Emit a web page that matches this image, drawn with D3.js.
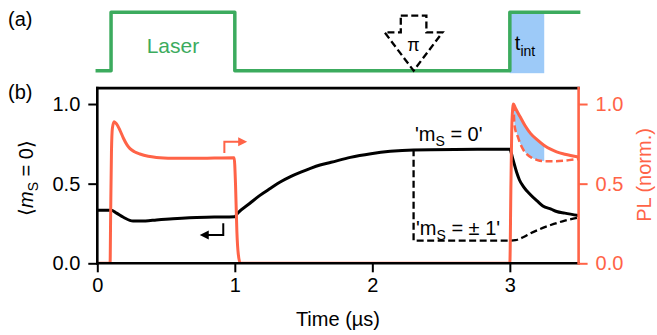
<!DOCTYPE html>
<html>
<head>
<meta charset="utf-8">
<script src="https://cdn.jsdelivr.net/npm/d3@7"></script>
<style>
  body { margin: 0; background: #fff; }
  svg { font-family: "Liberation Sans", Arial, sans-serif; }
</style>
</head>
<body>
<svg id="chart" width="657" height="335"></svg>
<script>
var xTicks = [0, 1, 2, 3];
var yTicks = [0, 0.5, 1.0];

// (a) laser sequence
var laserT  = [0, 0.1, 0.1, 1.0, 1.0, 3.0, 3.0, 3.5];
var laserOn = [0, 0,   1,   1,   0,   0,   1,   1];
var piTime = 2.3;
var intWindow = [3.0, 3.25];

// (b) population of m_S = 0, starting in m_S = 0 branch
var popT    = [0, 0.1, 0.14, 0.19, 0.26, 0.35, 0.43, 0.55, 0.67, 0.85, 1.0, 1.02, 1.11, 1.18, 1.26, 1.33, 1.405, 1.48, 1.55, 1.62, 1.70, 1.84, 1.99, 2.13, 2.3, 2.6, 3.0, 3.02, 3.05, 3.07, 3.1, 3.15, 3.2, 3.24, 3.3, 3.34, 3.4, 3.5];
var popZero = [0.333, 0.333, 0.315, 0.289, 0.265, 0.266, 0.272, 0.28, 0.286, 0.29, 0.293, 0.314, 0.377, 0.425, 0.471, 0.51, 0.544, 0.572, 0.596, 0.617, 0.634, 0.665, 0.688, 0.703, 0.712, 0.715, 0.716, 0.66, 0.57, 0.523, 0.48, 0.43, 0.39, 0.36, 0.34, 0.325, 0.315, 0.3];
// m_S = +-1 branch after the pi pulse
var popOneT = [2.3, 2.3, 2.6, 3.0, 3.04, 3.1, 3.15, 3.22, 3.32, 3.4, 3.5];
var popOne  = [0.716, 0.142, 0.142, 0.142, 0.145, 0.165, 0.188, 0.215, 0.247, 0.268, 0.287];

// PL, normalised
var plT = [0, 0.093, 0.097, 0.103, 0.11, 0.122, 0.14, 0.165, 0.19, 0.215, 0.238, 0.27, 0.31, 0.37, 0.43, 0.55, 0.67, 0.85, 0.995, 1.005, 1.015, 1.025, 1.04, 2.0, 3.0, 3.008, 3.016, 3.026, 3.04, 3.075, 3.11, 3.15, 3.2, 3.25, 3.3, 3.34, 3.4, 3.5];
var pl  = [0, 0, 0.3, 0.7, 0.85, 0.889, 0.875, 0.835, 0.785, 0.745, 0.72, 0.7, 0.686, 0.672, 0.665, 0.66, 0.659, 0.661, 0.663, 0.5, 0.2, 0.06, 0, 0, 0, 0.5, 0.9, 1.0, 0.975, 0.92, 0.865, 0.816, 0.775, 0.74, 0.715, 0.70, 0.685, 0.668];
var plOneT = [3.026, 3.035, 3.06, 3.075, 3.1, 3.123, 3.16, 3.2, 3.25, 3.33, 3.39, 3.45, 3.5];
var plOne  = [1.0, 0.86, 0.79, 0.753, 0.71, 0.686, 0.662, 0.648, 0.641, 0.641, 0.644, 0.65, 0.655];

var green = "#3cab5e", red = "#ff6347", blue = "#9dcaf8";

var svg = d3.select("#chart");
var x = d3.scaleLinear().domain([0, 3.5]).range([97.3, 578.6]);
var y = d3.scaleLinear().domain([0, 1.1]).range([263.3, 88.1]);
var yA = d3.scaleLinear().domain([0, 1]).range([70.7, 12.3]);

function pts(ts, vs) { return ts.map(function (t, i) { return [t, vs[i]]; }); }
function interp(ts, vs, t) {
  var i = Math.min(Math.max(d3.bisectRight(ts, t), 1), ts.length - 1);
  var f = (t - ts[i - 1]) / (ts[i] - ts[i - 1]);
  return vs[i - 1] + f * (vs[i] - vs[i - 1]);
}

// ---- panel (a)
svg.append("text").attr("x", 8).attr("y", 26).attr("font-size", 20).text("(a)");

svg.append("rect")
  .attr("x", x(intWindow[0])).attr("y", yA(1))
  .attr("width", x(intWindow[1]) - x(intWindow[0]))
  .attr("height", yA(0) - yA(1) + 2.5)
  .attr("fill", blue);

svg.append("path")
  .datum(pts(laserT, laserOn))
  .attr("d", d3.line().x(function (d) { return x(d[0]); }).y(function (d) { return yA(d[1]); }))
  .attr("fill", "none").attr("stroke", green).attr("stroke-width", 3.5)
  .attr("stroke-linejoin", "round").attr("stroke-linecap", "square");

svg.append("text").attr("x", x(0.55)).attr("y", 53).attr("text-anchor", "middle")
  .attr("font-size", 21).attr("fill", green).text("Laser");

// pi pulse arrow
var px = x(piTime);
var arrow = [[px - 12.8, 15.7], [px + 12.8, 15.7], [px + 12.8, 32.3], [px + 29, 32.3],
             [px, yA(0)], [px - 29, 32.3], [px - 12.8, 32.3]];
svg.append("path")
  .attr("d", d3.line()(arrow) + "Z")
  .attr("fill", "none").attr("stroke", "#000").attr("stroke-width", 2.3)
  .attr("stroke-dasharray", "7,3.5");
svg.append("text").attr("x", px).attr("y", 51).attr("text-anchor", "middle")
  .attr("font-size", 18).text("π");

var tint = svg.append("text").attr("x", x(intWindow[0]) + 5).attr("y", 50).attr("font-size", 20);
tint.append("tspan").text("t");
tint.append("tspan").attr("dy", 6).attr("font-size", 14).text("int");

// ---- panel (b)
svg.append("text").attr("x", 8).attr("y", 99).attr("font-size", 20).text("(b)");

svg.append("clipPath").attr("id", "clip").append("rect")
  .attr("x", x(0)).attr("y", y(1.1)).attr("width", x(3.5) - x(0)).attr("height", y(0) - y(1.1));

var plot = svg.append("g").attr("clip-path", "url(#clip)");
var mono = d3.line().curve(d3.curveMonotoneX)
  .x(function (d) { return x(d[0]); }).y(function (d) { return y(d[1]); });

// integration window fill between the two PL traces
var fillT = d3.range(plOneT[0], intWindow[1] + 0.0001, 0.002);
plot.append("path")
  .datum(fillT)
  .attr("d", d3.area()
    .x(function (t) { return x(t); })
    .y0(function (t) { return y(interp(plOneT, plOne, t)); })
    .y1(function (t) { return y(interp(plT, pl, t)); }))
  .attr("fill", blue);

plot.append("path").datum(pts(popT, popZero)).attr("d", mono)
  .attr("fill", "none").attr("stroke", "#000").attr("stroke-width", 3);

var one = pts(popOneT, popOne);
plot.append("path")
  .attr("d", "M" + x(one[0][0]) + "," + y(one[0][1]) + mono(one.slice(1)).replace(/^M/, "L"))
  .attr("fill", "none").attr("stroke", "#000").attr("stroke-width", 2.3)
  .attr("stroke-dasharray", "7,3.5");

plot.append("path").datum(pts(plOneT, plOne)).attr("d", mono)
  .attr("fill", "none").attr("stroke", red).attr("stroke-width", 2.5)
  .attr("stroke-dasharray", "7,3.5");

plot.append("path").datum(pts(plT, pl)).attr("d", mono)
  .attr("fill", "none").attr("stroke", red).attr("stroke-width", 3);

// which-axis arrows
function elbow(x0, y0, y1, x1, col) {
  var dir = x1 > x0 ? 1 : -1;
  svg.append("path")
    .attr("d", d3.line()([[x(x0), y(y0)], [x(x0), y(y1)], [x(x1) - dir * 6, y(y1)]]))
    .attr("fill", "none").attr("stroke", col).attr("stroke-width", 2);
  svg.append("path")
    .attr("d", d3.line()([[x(x1), y(y1)], [x(x1) - dir * 9, y(y1) - 4.5], [x(x1) - dir * 9, y(y1) + 4.5]]) + "Z")
    .attr("fill", col);
}
elbow(0.924, 0.692, 0.763, 1.09, red);
elbow(0.916, 0.251, 0.178, 0.745, "#000");

// annotations
var a0 = svg.append("text").attr("x", 415).attr("y", y(0.765)).attr("font-size", 20);
a0.append("tspan").text("'m");
a0.append("tspan").attr("dy", 5).attr("font-size", 14).text("S");
a0.append("tspan").attr("dy", -5).text(" = 0'");
var a1 = svg.append("text").attr("x", 416).attr("y", y(0.178)).attr("font-size", 20);
a1.append("tspan").text("'m");
a1.append("tspan").attr("dy", 5).attr("font-size", 14).text("S");
a1.append("tspan").attr("dy", -5).text(" =  ± 1'");

// spines
function spine(x1, y1, x2, y2, col) {
  svg.append("line").attr("x1", x1).attr("y1", y1).attr("x2", x2).attr("y2", y2)
    .attr("stroke", col).attr("stroke-width", 2.6).attr("stroke-linecap", "square");
}
spine(x(0), y(1.1), x(3.5), y(1.1), "#000");
spine(x(0), y(0), x(3.5), y(0), "#000");
spine(x(0), y(0), x(0), y(1.1), "#000");
spine(x(3.5), y(0), x(3.5), y(1.1), red);

// axes
var fmt = d3.format(".1f");
var xAxis = svg.append("g").attr("transform", "translate(0," + y(0) + ")")
  .call(d3.axisBottom(x).tickValues(xTicks).tickFormat(d3.format("d")).tickSize(9).tickPadding(6));
var yAxis = svg.append("g").attr("transform", "translate(" + x(0) + ",0)")
  .call(d3.axisLeft(y).tickValues(yTicks).tickFormat(fmt).tickSize(9).tickPadding(8));
var rAxis = svg.append("g").attr("transform", "translate(" + x(3.5) + ",0)")
  .call(d3.axisRight(y).tickValues(yTicks).tickFormat(fmt).tickSize(9).tickPadding(8));
[xAxis, yAxis, rAxis].forEach(function (g) {
  g.select(".domain").remove();
  g.selectAll("text").attr("font-size", 20).attr("font-family", null);
  g.selectAll("line").attr("stroke-width", 2);
});
rAxis.selectAll("line").attr("stroke", red);
rAxis.selectAll("text").attr("fill", red);

svg.append("text").attr("x", x(1.75)).attr("y", 326).attr("text-anchor", "middle")
  .attr("font-size", 20).text("Time (µs)");

svg.append("text").attr("transform", "translate(651,175) rotate(-90)")
  .attr("text-anchor", "middle").attr("font-size", 20).attr("fill", red).text("PL (norm.)");

var yl = svg.append("text").attr("transform", "translate(33,178) rotate(-90)")
  .attr("text-anchor", "middle").attr("font-size", 20);
yl.append("tspan").text("⟨");
yl.append("tspan").attr("font-style", "italic").text("m");
yl.append("tspan").attr("dy", 5).attr("font-size", 14).text("S");
yl.append("tspan").attr("dy", -5).text(" = 0⟩");
</script>
</body>
</html>
